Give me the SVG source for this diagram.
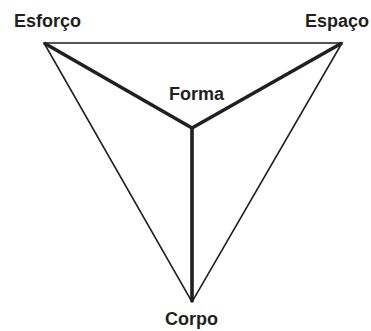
<svg xmlns="http://www.w3.org/2000/svg" width="371" height="331" viewBox="0 0 371 331">
<style>
.lbl{font-family:"Liberation Sans",Arial,sans-serif;font-weight:bold;font-size:18px;fill:#231f20;text-anchor:middle}
.thin{stroke:#231f20;stroke-width:1.6;fill:none;stroke-linejoin:miter}
.thick{stroke:#231f20;stroke-width:3.6;fill:none;stroke-linecap:butt}
</style>
<rect width="371" height="331" fill="#fff"/>
<g id="connectors">
<polygon class="thin" points="44,43 342,43 192,302"/>
<line class="thick" x1="192" y1="128" x2="44" y2="43"/>
<line class="thick" x1="192" y1="128" x2="342" y2="43"/>
<line class="thick" x1="192" y1="128" x2="192" y2="302"/>
</g>
<g id="esforco"><text class="lbl" x="47.5" y="27">Esforço</text></g>
<g id="espaco"><text class="lbl" x="337" y="27">Espaço</text></g>
<g id="forma"><text class="lbl" x="196.5" y="100">Forma</text></g>
<g id="corpo"><text class="lbl" x="191.5" y="325">Corpo</text></g>
</svg>
